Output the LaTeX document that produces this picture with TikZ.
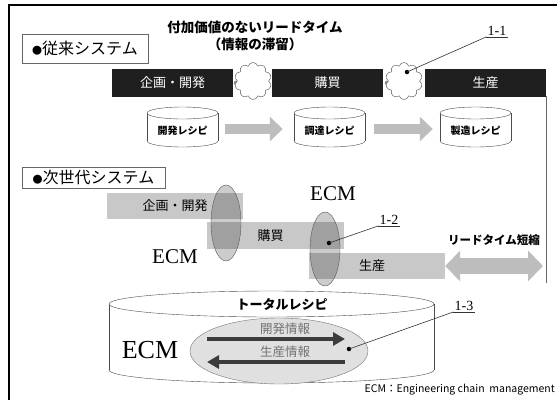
\documentclass[tikz,border=0pt]{standalone}
\usepackage{fontspec}
\setmainfont{Liberation Serif}
\newfontfamily\cjk{Noto Sans CJK JP}
\usetikzlibrary{shapes.symbols,shapes.arrows,shapes.geometric,arrows.meta}
\definecolor{bargray}{HTML}{C8C8C8}
\definecolor{arrgray}{HTML}{BDBDBD}
\definecolor{darkarr}{HTML}{3C3C3C}
\newcommand\mycyl[5]{%
  \draw[black!70,fill=white] ({#1},{#2+#4/2-#5}) ellipse [x radius={#3/2}, y radius={#5}];
  \fill[white] ({#1-#3/2},{#2-#4/2+#5}) rectangle ({#1+#3/2},{#2+#4/2-#5});
  \draw[black!70] ({#1-#3/2},{#2-#4/2+#5}) -- ({#1-#3/2},{#2+#4/2-#5})
                  ({#1+#3/2},{#2-#4/2+#5}) -- ({#1+#3/2},{#2+#4/2-#5});
  \draw[black!70,fill=white] ({#1},{#2-#4/2+#5}) ellipse [x radius={#3/2}, y radius={#5}];
}
\newcommand\mybul{{\fontsize{10}{10}\selectfont ●}}
\begin{document}
\begin{tikzpicture}[x=1pt,y=-1pt,
  blackbar/.style={fill=black!88, text=white, minimum height=28pt, inner sep=0pt, font=\cjk\fontsize{13}{13}\selectfont},
  graybar/.style={fill=bargray, minimum height=26pt, inner sep=0pt, font=\cjk\fontsize{13}{13}\selectfont},
  sysbox/.style={draw=black!60, inner sep=0pt, font=\cjk\fontsize{16}{16}\selectfont},
  cyltext/.style={font=\cjk\bfseries\fontsize{10}{10}\selectfont, inner sep=0pt},
  cylbox/.style={minimum width=71pt, minimum height=40pt, inner sep=0pt},
  grayarrow/.style={draw=arrgray, line width=10pt, -{Triangle[length=13pt, width=24pt]}},
  darkarrow/.style={draw=darkarr, line width=4.5pt, -{Triangle[length=12pt, width=13pt]}},
  ecmell/.style={ellipse, draw=black!65, fill=black, fill opacity=0.2, minimum width=30pt, inner sep=0pt},
  numlbl/.style={font=\fontsize{14}{14}\selectfont, inner sep=1pt},
  ecmtext/.style={font=\fontsize{21}{21}\selectfont, inner sep=0pt},
  cloudbox/.style={cloud, cloud puffs=10, draw=black!70, fill=white, minimum width=37pt, minimum height=37pt, inner sep=0pt, aspect=1},
  leader/.style={draw=black!80, line width=0.6pt},
  dotmark/.style={circle, fill=black, minimum size=4.5pt, inner sep=0pt}
]
\useasboundingbox (0,0) rectangle (557,400);
\fill[white] (0,0) rectangle (557,400);
% frame
\draw[line width=2pt] (9,400) -- (9,5) -- (557,5);
\draw[black!60, line width=0.8pt] (546,96) -- (546,283);

% title
\node[font=\cjk\bfseries\fontsize{13.5}{17}\selectfont, align=center] (title) at (255,36) {付加価値のないリードタイム\\（情報の滞留）};

% system boxes
\node[sysbox, minimum width=126pt, minimum height=29pt] (sys1) at (85,48.5) {\mybul 従来システム};
\node[sysbox, minimum width=143pt, minimum height=21pt] (sys2) at (93.5,177.5) {\mybul 次世代システム};

% black bars
\node[blackbar, minimum width=121pt] (b1) at (172.5,82.5) {企画・開発};
\node[blackbar, minimum width=111pt] (b2) at (327.5,82.5) {購買};
\node[blackbar, minimum width=121pt] (b3) at (485.5,82.5) {生産};

% clouds
\fill[black!45] (236,83) circle (2.3);
\fill[black!45] (387,83) circle (2.3);
\node[cloudbox] (cl1) at (253,81) {};
\node[cloudbox] (cl2) at (404,81) {};
\node[dotmark] (d1) at (407,72) {};
\node[numlbl] (l1) at (497,31) {1-1};
\draw[black!80,line width=0.6pt] (l1.south west) -- (l1.south east);
\draw[leader] (d1.center) -- (l1.south west);

% small cylinders
\mycyl{182.5}{127}{71}{40}{6}
\mycyl{329.5}{127}{71}{40}{6}
\mycyl{475.5}{127}{71}{40}{6}
\node[cylbox] (c1) at (182.5,127) {};
\node[cylbox] (c2) at (329.5,127) {};
\node[cylbox] (c3) at (475.5,127) {};
\node[cyltext] at (182.5,131) {開発レシピ};
\node[cyltext] at (329.5,131) {調達レシピ};
\node[cyltext] at (475.5,131) {製造レシピ};
\draw[grayarrow, shorten <=7pt, shorten >=11pt] ([yshift=-2pt]c1.east) -- ([yshift=-2pt]c2.west);
\draw[grayarrow, shorten <=9pt, shorten >=7pt] ([yshift=-2pt]c2.east) -- ([yshift=-2pt]c3.west);

% next generation bars
\node[graybar, minimum width=136pt] (g1) at (175,206) {企画・開発};
\node[graybar, minimum width=137pt, minimum height=27pt] (g2) at (275.5,235.5) {\hspace*{-10pt}購買};
\node[graybar, minimum width=136pt] (g3) at (377,266) {\hspace*{-10pt}生産};
\node[ecmell, minimum height=76pt] (e1) at (226,223) {};
\node[ecmell, minimum height=74pt] (e2) at (325,249) {};
\node[ecmtext] (ecm1) at (175,257) {ECM};
\node[ecmtext] (ecm2) at (333,194) {ECM};
\node[dotmark] (d2) at (329,243) {};
\node[numlbl] (l2) at (389,220) {1-2};
\draw[black!80,line width=0.6pt] (l2.south west) -- (l2.south east);
\draw[leader] (d2.center) -- (l2.south west);

% lead time reduction
\node[font=\cjk\bfseries\fontsize{11.5}{11.5}\selectfont, inner sep=0pt] (lt) at (494,240) {リードタイム短縮};
\coordinate (ltend) at (543,266);
\draw[draw=arrgray, line width=16pt, {Triangle[length=15pt, width=30pt]}-{Triangle[length=15pt, width=30pt]}] (g3.east) -- (ltend);

% total recipe cylinder
\mycyl{271.5}{337}{325}{92}{13}
\node[font=\cjk\bfseries\fontsize{13}{13}\selectfont, inner sep=0pt] (tot) at (282,304) {トータルレシピ};
\node[ellipse, draw=black!55, fill=black!12, minimum width=178pt, minimum height=66pt, inner sep=0pt] (inell) at (279,351) {};
\node[font=\cjk\fontsize{12.5}{12.5}\selectfont, text=black!55, inner sep=0pt] (kai) at (285,329) {開発情報};
\node[font=\cjk\fontsize{12.5}{12.5}\selectfont, text=black!55, inner sep=0pt] (sei) at (285,352) {生産情報};
\coordinate (a1s) at (207,339);
\coordinate (a1e) at (345,339);
\coordinate (a2s) at (345,362);
\coordinate (a2e) at (207,362);
\draw[darkarrow] (a1s) -- (a1e);
\draw[darkarrow] (a2s) -- (a2e);
\node[font=\fontsize{26}{26}\selectfont, inner sep=0pt] (ecm3) at (150,350) {ECM};
\node[dotmark] (d3) at (349,349) {};
\node[numlbl] (l3) at (464,306) {1-3};
\draw[black!80,line width=0.6pt] (l3.south west) -- (l3.south east);
\draw[leader] (d3.center) -- (l3.south west);

% footnote
\node[font=\cjk\fontsize{10.5}{10.5}\selectfont, anchor=east, inner sep=0pt] (foot) at (555,390) {ECM：Engineering chain\ \ management};
\end{tikzpicture}
\end{document}
